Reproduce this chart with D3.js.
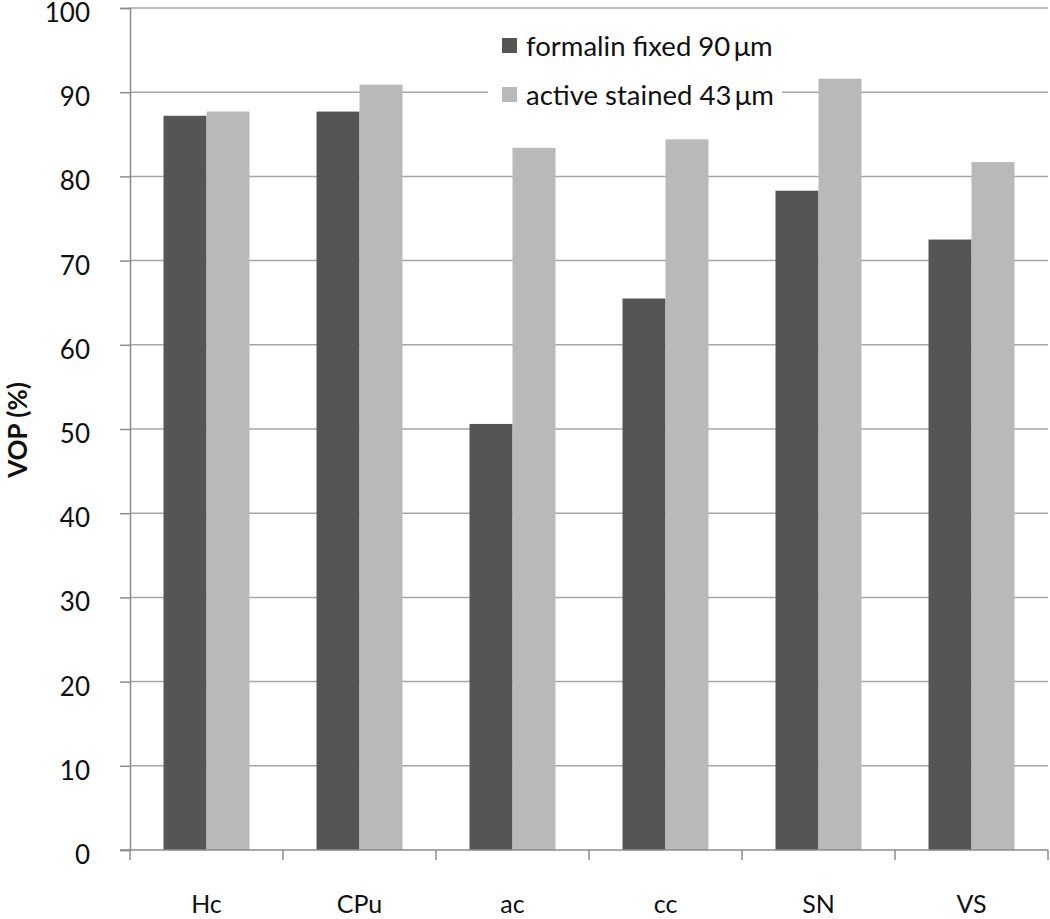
<!DOCTYPE html>
<html><head><meta charset="utf-8">
<script src="https://cdn.jsdelivr.net/npm/d3@7"></script>
<style>body{margin:0;background:#fff}svg{display:block}text{font-family:Lato,"Open Sans",sans-serif}</style>
</head><body><svg id="c" width="1050" height="919"></svg>
<script>
const categories = ["Hc","CPu","ac","cc","SN","VS"];
const seriesNames = ["formalin fixed 90\u2009\u03bcm","active stained 43\u2009\u03bcm"];
const formalinFixed = [87.2, 87.7, 50.6, 65.5, 78.3, 72.5];
const activeStained = [87.7, 90.9, 83.4, 84.4, 91.6, 81.7];
const yTicks = [0,10,20,30,40,50,60,70,80,90,100];
const colors = ["#555555","#b9b9b9"];

const svg = d3.select("#c");
const x0 = 130, x1 = 1048, yb = 850, yt = 8;
const x = d3.scaleBand().domain(categories).range([x0,x1]).paddingInner(0.438).paddingOuter(0.219);
const xs = d3.scaleBand().domain([0,1]).range([0,x.bandwidth()]);
const y = d3.scaleLinear().domain([0,100]).range([yb,yt]);

// gridlines
svg.append("g").selectAll("line").data(yTicks.filter(d=>d>0)).join("line")
  .attr("x1",x0).attr("x2",x1).attr("y1",d=>y(d)).attr("y2",d=>y(d))
  .attr("stroke","#a6a6a6").attr("stroke-width",1.5);

// y axis
const ya = svg.append("g").attr("transform",`translate(${x0},0)`)
  .call(d3.axisLeft(y).tickValues(yTicks).tickSize(10).tickPadding(30));
ya.select(".domain").attr("stroke","#8c8c8c").attr("stroke-width",1.5);
ya.selectAll(".tick line").attr("stroke","#8c8c8c").attr("stroke-width",1.5);
ya.selectAll("text").attr("font-size",26).attr("fill","#111").attr("font-family","Lato,sans-serif").attr("dy","0.52em");

// bars
const series = [formalinFixed, activeStained];
series.forEach((vals,i)=>{
  svg.append("g").selectAll("rect").data(categories).join("rect")
    .attr("x",(c)=>x(c)+xs(i)).attr("width",xs.bandwidth())
    .attr("y",(c,j)=>y(vals[j])).attr("height",(c,j)=>yb-y(vals[j]))
    .attr("fill",colors[i]);
});

// x axis
const xa = svg.append("g").attr("transform",`translate(0,${yb})`);
xa.append("line").attr("x1",x0-10).attr("x2",x1).attr("stroke","#8c8c8c").attr("stroke-width",1.5);
const bounds = categories.map(c=>x(c)-x.step()*x.paddingInner()/2).concat([x1]);
xa.selectAll("line.tk").data(bounds).join("line").attr("class","tk")
  .attr("x1",d=>d).attr("x2",d=>d).attr("y1",0).attr("y2",10)
  .attr("stroke","#8c8c8c").attr("stroke-width",1.5);
xa.selectAll("text").data(categories).join("text")
  .attr("x",c=>x(c)+x.bandwidth()/2).attr("y",63)
  .attr("text-anchor","middle").attr("font-size",25).attr("fill","#111").text(c=>c);

// y title
svg.append("text").attr("transform","translate(27,430) rotate(-90)")
  .attr("text-anchor","middle").attr("font-size",26).attr("font-weight","bold").attr("fill","#111").text("VOP (%)");

// legend
const lg = svg.append("g");
lg.append("rect").attr("x",488).attr("y",y(90)-4).attr("width",294).attr("height",8).attr("fill","#fff");
seriesNames.forEach((n,i)=>{
  const cy = 46 + i*49;
  lg.append("rect").attr("x",502).attr("y",cy-8).attr("width",15).attr("height",15).attr("fill",colors[i]);
  lg.append("text").attr("x",526).attr("y",cy).attr("dy","0.36em").attr("font-size",27.5).attr("fill","#111").text(n);
});
</script></body></html>
